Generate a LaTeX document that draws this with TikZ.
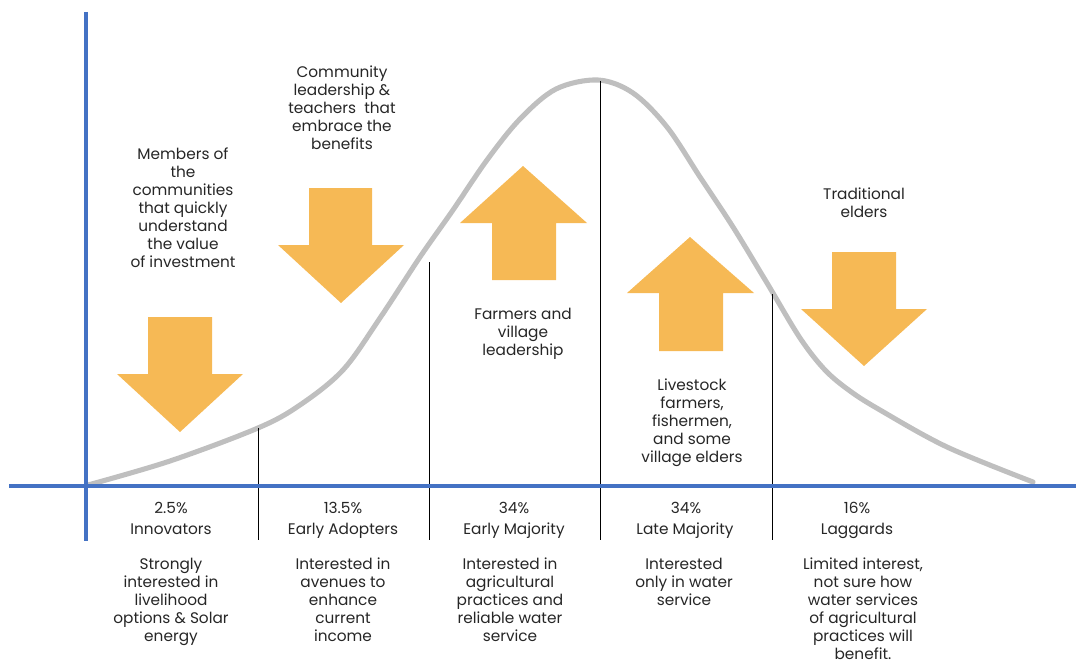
\documentclass[tikz,border=0pt]{standalone}
\usepackage{fontspec}
\setmainfont{Poppins}
\usetikzlibrary{positioning}

\definecolor{axisblue}{HTML}{4472C4}
\definecolor{curvegray}{HTML}{BFBFBF}
\definecolor{arroworange}{HTML}{F6B955}
\definecolor{textgray}{HTML}{262626}

\tikzset{
  axisline/.style={axisblue, line width=3.2pt},
  bellcurve/.style={curvegray, line width=3.6pt, line cap=round},
  divider/.style={black, line width=0.7pt},
  blockarrow/.style={fill=arroworange},
  % base anchor of a multi-line node = baseline of its last line
  lbl/.style={align=center, inner sep=0pt, anchor=base, text=textgray,
    font=\fontsize{10.9}{12.76}\selectfont}
}

\begin{document}
\begin{tikzpicture}[x=0.025cm, y=-0.025cm]
  \useasboundingbox (0, 0) rectangle (1076, 663);

  % bell curve
  \draw[bellcurve] plot[smooth, tension=0.55] coordinates {
    (88, 485) (170, 461) (258, 428) (300, 405) (343, 370) (380, 318)
    (420, 257) (453, 210) (487, 160) (520, 119) (556, 89)
    (598, 80) (633, 93) (667, 127) (700, 177) (733, 227) (767, 283)
    (800, 338) (825, 370) (850, 391) (880, 410) (947, 447) (1033, 482)};

  % segment dividers
  \draw[divider] (258, 428) -- (258, 540);
  \draw[divider] (429, 262) -- (429, 540);
  \draw[divider] (600, 81) -- (600, 540);
  \draw[divider] (772, 294) -- (772, 540);

  % axes
  \draw[axisline] (9, 486) -- (1076, 486);
  \draw[axisline] (86, 12) -- (86, 541);

  % arrows
  \fill[blockarrow] (148, 317) -- (212, 317) -- (212, 374) -- (243, 374)
    -- (180, 432) -- (117, 374) -- (148, 374) -- cycle;
  \fill[blockarrow] (309, 188) -- (372, 188) -- (372, 245) -- (404, 245)
    -- (341, 303) -- (278, 245) -- (309, 245) -- cycle;
  \fill[blockarrow] (492, 280) -- (556, 280) -- (556, 223) -- (587, 223)
    -- (523, 166) -- (460, 223) -- (492, 223) -- cycle;
  \fill[blockarrow] (659, 351) -- (723, 351) -- (723, 293) -- (754, 293)
    -- (690, 237) -- (627, 293) -- (659, 293) -- cycle;
  \fill[blockarrow] (832, 252) -- (896, 252) -- (896, 309) -- (927, 309)
    -- (864, 366) -- (801, 309) -- (832, 309) -- cycle;

  % upper labels
  \node[lbl] (innogroup) at (183, 267)
    {Members of\\the\\communities\\that quickly\\understand\\the value\\of investment};
  \node[lbl] (adoptgroup) at (342, 149)
    {Community\\leadership \&\\teachers\ \ that\\embrace the\\benefits};
  \node[lbl] (earlygroup) at (523, 355) {Farmers and\\village\\leadership};
  \node[lbl] (lategroup) at (692, 462)
    {Livestock\\farmers,\\fishermen,\\and some\\village elders};
  \node[lbl] (laggroup) at (864, 217) {Traditional\\elders};

  % Innovators
  \node[lbl] (innopct) at (171, 513) {2.5\%};
  \node[lbl] (innoname) at (171, 534) {Innovators};
  \node[lbl] (innodesc) at (171, 641)
    {Strongly\\interested in\\livelihood\\options \& Solar\\energy};

  % Early Adopters
  \node[lbl] (adoptpct) at (343, 513) {13.5\%};
  \node[lbl] (adoptname) at (343, 534) {Early Adopters};
  \node[lbl] (adoptdesc) at (343, 641)
    {Interested in\\avenues to\\enhance\\current\\income};

  % Early Majority
  \node[lbl] (earlypct) at (514, 513) {34\%};
  \node[lbl] (earlyname) at (514, 534) {Early Majority};
  \node[lbl] (earlydesc) at (510, 641)
    {Interested in\\agricultural\\practices and\\reliable water\\service};

  % Late Majority
  \node[lbl] (latepct) at (686, 513) {34\%};
  \node[lbl] (latename) at (685, 534) {Late Majority};
  \node[lbl] (latedesc) at (684, 605)
    {Interested\\only in water\\service};

  % Laggards
  \node[lbl] (lagpct) at (857, 513) {16\%};
  \node[lbl] (lagname) at (857, 534) {Laggards};
  \node[lbl] (lagdesc) at (863, 659)
    {Limited interest,\\not sure how\\water services\\of agricultural\\practices will\\benefit.};
\end{tikzpicture}
\end{document}
